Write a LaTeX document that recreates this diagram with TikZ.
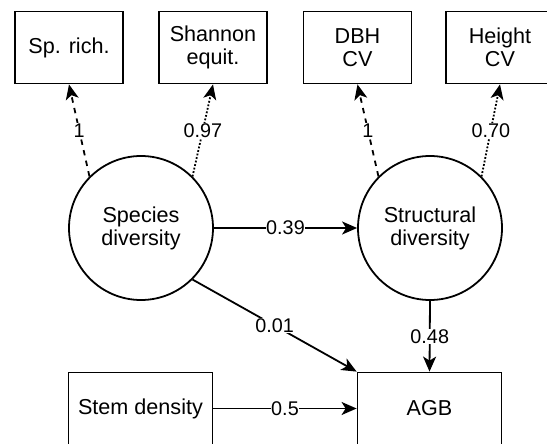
\documentclass[tikz,border=0pt]{standalone}
\usepackage{fontspec}
\setmainfont{Liberation Sans}
\usetikzlibrary{arrows.meta}

\tikzset{
  base/.style={draw=black, line width=1.8pt, align=center, inner sep=0pt,
    font=\fontsize{21.6}{23}\selectfont},
  indicator/.style={base, rectangle, minimum width=108pt, minimum height=72pt},
  widebox/.style={base, rectangle, minimum width=144pt, minimum height=72pt},
  latent/.style={base, circle, minimum size=144pt},
  link/.style={line width=1.8pt, -{Stealth[length=15pt, width=13pt, inset=4pt]}},
  dashlink/.style={link, dash pattern=on 5.4pt off 5.4pt},
  dotlink/.style={link, dash pattern=on 1.8pt off 1.8pt},
  coef/.style={fill=white, inner sep=0.5pt, font=\fontsize{19.8}{22}\selectfont}
}

\begin{document}
\begin{tikzpicture}[x=1pt, y=-1pt]
  \clip (0,0) rectangle (547,444);
  \fill[white] (0,0) rectangle (547,444);

  % indicator variables
  \node[indicator] (rich)    at (69,47.5)    {Sp. rich.};
  \node[indicator] (shannon) at (213,47.5)   {Shannon\\equit.};
  \node[indicator] (dbh)     at (357.5,47.5) {DBH\\CV};
  \node[indicator] (height)  at (500,47.5)   {Height\\CV};

  % latent variables
  \node[latent] (species)    at (141,228) {Species\\diversity};
  \node[latent] (structural) at (430,228) {Structural\\diversity};

  % observed predictors and response
  \node[widebox] (stem) at (140.5,408.5) {Stem density};
  \node[widebox] (agb)  at (429.5,408.5) {AGB};

  % loadings
  \draw[dashlink] (species.135) -- node[coef] {1} (rich.south);
  \draw[dotlink]  (species.45)  -- node[coef] {0.97} (shannon.south);
  \draw[dashlink] (structural.135) -- node[coef] {1} (dbh.south);
  \draw[dotlink]  (structural.45)  -- node[coef] {0.70} (height.south);

  % structural paths
  \draw[link] (species) -- node[coef] {0.39} (structural);
  \draw[link] (species.-45) -- node[coef] {0.01} (agb.north west);
  \draw[link] (structural.south) -- node[coef] {0.48} (agb.north);
  \draw[link] (stem) -- node[coef] {0.5} (agb);
\end{tikzpicture}
\end{document}
